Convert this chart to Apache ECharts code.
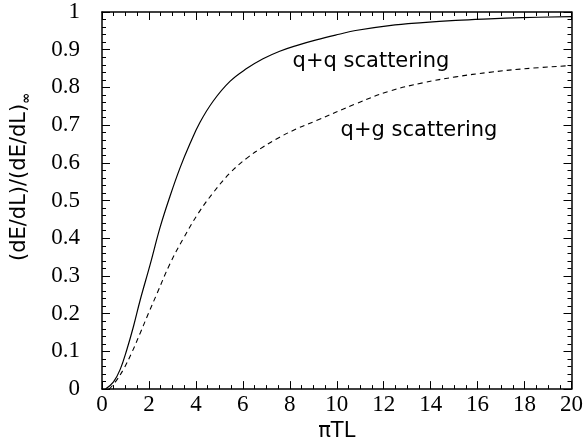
<!DOCTYPE html>
<html>
<head>
<meta charset="utf-8">
<script src="https://cdn.jsdelivr.net/npm/echarts@6/dist/echarts.min.js"></script>
<style>
html,body{margin:0;padding:0;background:#fff;}
#chart{width:586px;height:447px;}
</style>
</head>
<body>
<div id="chart"></div>
<script>
// q+q scattering (solid)
var qqX = [0.15, 0.49, 0.78, 1.06, 1.34, 1.63, 2.05, 2.48, 2.9, 3.32, 3.75, 4.17, 4.74, 5.45, 6.16, 6.86, 7.57, 8.28, 9.13, 10.1, 10.8, 12.24, 13.66, 15.07, 16.5, 17.9, 20];
var qqY = [0, 0.019, 0.053, 0.105, 0.166, 0.237, 0.33, 0.43, 0.512, 0.586, 0.651, 0.707, 0.764, 0.816, 0.850, 0.876, 0.896, 0.911, 0.926, 0.941, 0.951, 0.964, 0.972, 0.978, 0.982, 0.985, 0.988];
// q+g scattering (dashed)
var qgX = [0.3, 0.57, 0.92, 1.27, 1.63, 1.98, 2.34, 2.9, 3.47, 4.1, 4.74, 5.45, 6.16, 6.86, 7.57, 8.28, 9.13, 10.83, 12.24, 13.66, 15.07, 16.5, 17.9, 20];
var qgY = [0, 0.019, 0.053, 0.097, 0.149, 0.201, 0.253, 0.333, 0.400, 0.466, 0.521, 0.573, 0.612, 0.642, 0.668, 0.690, 0.712, 0.757, 0.79, 0.812, 0.828, 0.840, 0.849, 0.858];

var xTicks = {min: 0, max: 20, interval: 2};
var yTicks = {min: 0, max: 1, interval: 0.1};

var seriesNames = ['q+q scattering', 'q+g scattering'];
var xTitle = 'πTL';

function pairs(xs, ys){ return xs.map(function(x,i){ return [x, ys[i]]; }); }

var serifFont = 'Liberation Serif';
var sansFont = 'DejaVu Sans';
var tickRich = {s: {fontFamily: serifFont, fontSize: 23, color: '#000'}};

function makeX(pos, showLabel){
  return {
    type: 'value', position: pos, min: xTicks.min, max: xTicks.max, interval: xTicks.interval,
    axisLine: {show: true, onZero: false, lineStyle: {color: '#000', width: 1.5}},
    axisTick: {show: true, inside: true, length: 8, lineStyle: {color: '#000', width: 1}},
    minorTick: {show: true, splitNumber: 4, length: 4, lineStyle: {color: '#000', width: 1}},
    splitLine: {show: false}, minorSplitLine: {show: false},
    axisLabel: {show: showLabel, formatter: '{s|{value}}', rich: tickRich, fontFamily: serifFont, fontSize: 23, color: '#000', margin: 4},
    name: showLabel ? xTitle : '', nameLocation: 'middle', nameGap: 31,
    nameTextStyle: {fontFamily: sansFont, fontSize: 21, color: '#000'}
  };
}
function makeY(pos, showLabel){
  return {
    type: 'value', position: pos, min: yTicks.min, max: yTicks.max, interval: yTicks.interval,
    axisLine: {show: true, onZero: false, lineStyle: {color: '#000', width: 1.5}},
    axisTick: {show: true, inside: true, length: 8, lineStyle: {color: '#000', width: 1}},
    minorTick: {show: true, splitNumber: 5, length: 4, lineStyle: {color: '#000', width: 1}},
    splitLine: {show: false}, minorSplitLine: {show: false},
    axisLabel: {show: showLabel, formatter: '{s|{value}}', rich: tickRich, fontFamily: serifFont, fontSize: 23, color: '#000', margin: 22}
  };
}

var chart = echarts.init(document.getElementById('chart'), null, {renderer: 'canvas'});
chart.setOption({
  animation: false,
  backgroundColor: '#fff',
  grid: {left: 102, right: 13, top: 12, bottom: 49, containLabel: false},
  xAxis: [makeX('bottom', true), makeX('top', false)],
  yAxis: [makeY('left', true), makeY('right', false)],
  series: [
    {name: seriesNames[0], type: 'line', xAxisIndex: 0, yAxisIndex: 0, data: pairs(qqX, qqY),
     smooth: 0.4, showSymbol: false, lineStyle: {color: '#000', width: 1.2, type: 'solid'}},
    {name: seriesNames[1], type: 'line', xAxisIndex: 0, yAxisIndex: 0, data: pairs(qgX, qgY),
     smooth: 0.4, showSymbol: false, lineStyle: {color: '#000', width: 1.1, type: [5, 4]}}
  ],
  graphic: [
    {type: 'text', x: 371, y: 62, style: {text: seriesNames[0], fontFamily: sansFont, fontSize: 21, fill: '#000', align: 'center', verticalAlign: 'middle'}},
    {type: 'text', x: 419, y: 131, style: {text: seriesNames[1], fontFamily: sansFont, fontSize: 21, fill: '#000', align: 'center', verticalAlign: 'middle'}},
    {type: 'text', x: 20, y: 177, rotation: Math.PI / 2, style: {
      text: '{a|(dE/dL)/(dE/dL)}{s|∞}', align: 'center', verticalAlign: 'middle',
      rich: {
        a: {fontFamily: sansFont, fontSize: 21, fill: '#000', lineHeight: 26},
        s: {fontFamily: sansFont, fontSize: 13, fontWeight: 'bold', fill: '#000', verticalAlign: 'bottom', lineHeight: 26}
      }
    }}
  ]
});
</script>
</body>
</html>
